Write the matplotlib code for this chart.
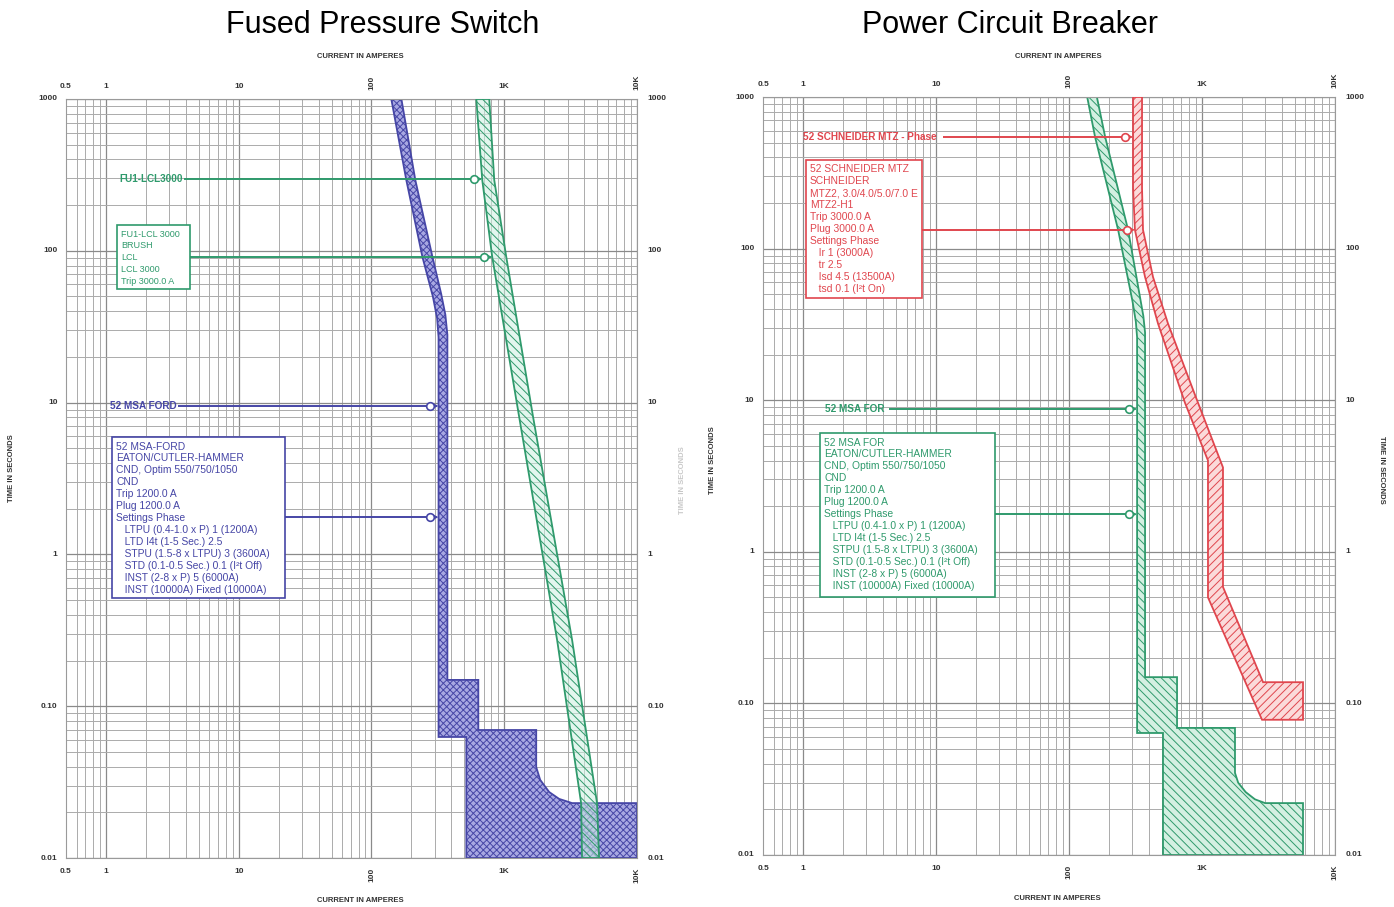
import numpy as np
import matplotlib
matplotlib.use('Agg')
import matplotlib.pyplot as plt
from matplotlib.patches import Rectangle, Polygon
from matplotlib.ticker import FixedLocator, LogLocator, NullFormatter
from matplotlib.transforms import blended_transform_factory

plt.rcParams['font.family'] = ['Liberation Sans', 'DejaVu Sans']
plt.rcParams['hatch.linewidth'] = 0.7

# ---------------- data ----------------
titles = ['Fused Pressure Switch', 'Power Circuit Breaker']
x_label = 'CURRENT IN AMPERES'
y_label = 'TIME IN SECONDS'
x_ticks = [0.5, 1, 10, 100, 1000, 10000]
x_tick_labels = ['0.5', '1', '10', '100', '1K', '10K']
x_tick_rot = [0, 0, 0, 90, 0, 90]
y_ticks = [1000, 100, 10, 1, 0.1, 0.01]
y_tick_labels = ['1000', '100', '10', '1', '0.10', '0.01']

# Left chart: breaker 52 MSA FORD (blue) outline (current A, time s)
blue_I = [141, 183, 242, 290, 312, 320, 320, 518, 518, 10000, 10000, 3245, 2594,
          2180, 1866, 1741, 1741, 638, 638, 373, 373, 360, 335, 288, 214, 168]
blue_t = [1000, 292, 91, 50, 36, 27, 0.0627, 0.0627, 0.01, 0.01, 0.023, 0.023, 0.0245,
          0.0272, 0.0327, 0.0397, 0.0697, 0.0697, 0.149, 0.149, 28, 38, 52, 91, 292, 1000]

# Left chart: fuse FU1-LCL3000 (green) band outline
fuse_I = [616, 683, 812, 1297, 2502, 3793, 3855, 5180, 5000, 3245, 1651, 1036, 841, 771]
fuse_t = [1000, 292, 91, 8.0, 0.273, 0.023, 0.01, 0.01, 0.023, 0.273, 8.0, 91, 292, 1000]

# Right chart: breaker 52 MSA FOR (green) outline
green_I = [137, 157, 234, 300, 318, 325, 325, 509, 509, 5747, 5747, 2978, 2500, 2130,
           1870, 1770, 1770, 649, 649, 373, 373, 362, 278, 187, 162]
green_t = [1000, 545, 133, 45, 33, 26, 0.0638, 0.0638, 0.01, 0.01, 0.022, 0.022, 0.0233,
           0.026, 0.030, 0.0348, 0.0689, 0.0689, 0.149, 0.149, 28, 36, 133, 545, 1000]

# Right chart: breaker 52 SCHNEIDER MTZ (red) outline
red_I = [303, 303, 313, 373, 467, 745, 1109, 1109, 2827, 5747, 5747, 2877, 1438, 1438,
         917, 555, 428, 360, 354, 354]
red_t = [1000, 250, 133, 65, 32, 9.6, 4.0, 0.50, 0.078, 0.078, 0.138, 0.138, 0.586, 3.6,
         10, 32, 65, 133, 250, 1000]

fuse_box = ['FU1-LCL 3000', 'BRUSH', 'LCL', 'LCL 3000', 'Trip 3000.0 A']
msa_box = ['52 MSA-FORD', 'EATON/CUTLER-HAMMER', 'CND, Optim 550/750/1050', 'CND',
           'Trip 1200.0 A', 'Plug 1200.0 A', 'Settings Phase',
           '   LTPU (0.4-1.0 x P) 1 (1200A)', '   LTD I4t (1-5 Sec.) 2.5',
           '   STPU (1.5-8 x LTPU) 3 (3600A)', '   STD (0.1-0.5 Sec.) 0.1 (I\u00b2t Off)',
           '   INST (2-8 x P) 5 (6000A)', '   INST (10000A) Fixed (10000A)']
msa_box_r = ['52 MSA FOR'] + msa_box[1:]
mtz_box = ['52 SCHNEIDER MTZ', 'SCHNEIDER', 'MTZ2, 3.0/4.0/5.0/7.0 E', 'MTZ2-H1',
           'Trip 3000.0 A', 'Plug 3000.0 A', 'Settings Phase', '   Ir 1 (3000A)',
           '   tr 2.5', '   Isd 4.5 (13500A)', '   tsd 0.1 (I\u00b2t On)']

# ---------------- style ----------------
BLUE = '#4646a6'
GREEN = '#2f9a6c'
RED = '#e0464e'
XMIN, XMAX, YMIN, YMAX = 0.5, 10000, 0.01, 1000

fig = plt.figure(figsize=(13.94, 9.07), dpi=100)
axL = fig.add_axes([66/1394, 1-858/907, 571/1394, 759/907])
axR = fig.add_axes([763/1394, 1-855/907, 572/1394, 758/907])


def frac_to_I(f):
    return 10 ** (np.log10(XMIN) + f * (np.log10(XMAX) - np.log10(XMIN)))


def setup(ax):
    ax.set_xscale('log')
    ax.set_yscale('log')
    ax.set_xlim(XMIN, XMAX)
    ax.set_ylim(YMIN, YMAX)
    for axis in (ax.xaxis, ax.yaxis):
        axis.set_major_locator(FixedLocator([1, 10, 100, 1000, 10000, 0.1, 0.01]))
        axis.set_minor_locator(LogLocator(base=10, subs=np.arange(2, 10)))
        axis.set_major_formatter(NullFormatter())
        axis.set_minor_formatter(NullFormatter())
    ax.tick_params(which='both', length=0)
    ax.grid(which='major', color='#8a8a8a', lw=0.9)
    ax.grid(which='minor', color='#ababab', lw=0.7)
    ax.set_axisbelow(True)
    for s in ax.spines.values():
        s.set_color('#9a9a9a')
        s.set_linewidth(0.8)
    tx = blended_transform_factory(ax.transData, ax.transAxes)
    ty = blended_transform_factory(ax.transAxes, ax.transData)
    for v, lab, rot in zip(x_ticks, x_tick_labels, x_tick_rot):
        ax.text(v, 1.012, lab, transform=tx, ha='center', va='bottom', rotation=rot,
                fontsize=6, color='#333333', fontweight='bold')
        ax.text(v, -0.013, lab, transform=tx, ha='center', va='top', rotation=rot,
                fontsize=6, color='#333333', fontweight='bold')
    for v, lab in zip(y_ticks, y_tick_labels):
        ax.text(-0.015, v, lab, transform=ty, ha='right', va='center',
                fontsize=6, color='#333333', fontweight='bold')
        ax.text(1.018, v, lab, transform=ty, ha='left', va='center',
                fontsize=6, color='#333333', fontweight='bold')


def band(ax, I, t, color, face, hatch, z):
    poly = Polygon(np.column_stack([I, t]), closed=True, facecolor=face, edgecolor=color,
                   hatch=hatch, lw=1.3, zorder=z)
    ax.add_patch(poly)


def leader(ax, x0, tip, t, color):
    c = tip / 1.15
    ax.plot([x0, c], [t, t], color=color, lw=1.4, zorder=4, solid_capstyle='butt')
    ax.annotate('', xy=(tip, t), xytext=(c * 1.03, t),
                arrowprops=dict(arrowstyle='-|>', color=color, lw=1.2,
                                mutation_scale=7, shrinkA=0, shrinkB=0), zorder=4)
    ax.plot([c], [t], marker='o', ms=5.5, mfc='white', mec=color, mew=1.2, zorder=5)


def tag(ax, x_start, x_end, t, text, tip, color):
    ax.text(x_start, t, text, ha='left', va='center', fontsize=7.2, fontweight='bold',
            color=color, zorder=6)
    leader(ax, x_end, tip, t, color)


def info_box(ax, x0, y0, x1, y1, lines, color, t_lead, tip, fs=7.4, ls=1.24):
    ax.add_patch(Rectangle((x0, y0), x1 - x0, y1 - y0, transform=ax.transAxes,
                           facecolor='white', edgecolor=color, lw=1.2, zorder=5))
    ax.text(x0 + 0.007, y1 - 0.006, '\n'.join(lines), transform=ax.transAxes,
            ha='left', va='top', fontsize=fs, color=color, linespacing=ls, zorder=6)
    leader(ax, frac_to_I(x1), tip, t_lead, color)


# ---------------- left chart ----------------
setup(axL)
band(axL, blue_I, blue_t, BLUE, '#a8a8e2', 'xxxxx', 2)
band(axL, fuse_I, fuse_t, GREEN, (0.80, 0.94, 0.88, 0.55), '\\\\\\\\', 3)
tag(axL, 1.27, 3.85, 297, 'FU1-LCL3000', 683, GREEN)
info_box(axL, 0.0893, 0.750, 0.217, 0.834, fuse_box, GREEN, 91, 812, fs=6.5, ls=1.42)
tag(axL, 1.07, 3.5, 9.5, '52 MSA FORD', 320, BLUE)
info_box(axL, 0.0806, 0.3426, 0.3835, 0.5547, msa_box, BLUE, 1.76, 320)

# ---------------- right chart ----------------
setup(axR)
band(axR, green_I, green_t, GREEN, '#d4f0e2', '\\\\\\\\', 2)
band(axR, red_I, red_t, RED, '#fbdada', '////', 3)
tag(axR, 1.0, 11.3, 545, '52 SCHNEIDER MTZ - Phase', 303, RED)
info_box(axR, 0.0752, 0.735, 0.278, 0.917, mtz_box, RED, 133, 313)
tag(axR, 1.46, 4.4, 8.75, '52 MSA FOR', 325, GREEN)
info_box(axR, 0.0997, 0.3404, 0.4056, 0.5567, msa_box_r, GREEN, 1.77, 325)

# ---------------- figure texts ----------------
fig.text(383/1394, 1-25/907, titles[0], fontsize=22, ha='center', va='center')
fig.text(1010/1394, 1-25/907, titles[1], fontsize=22, ha='center', va='center')
for (px, py) in [(360, 57), (360, 900), (1058, 56), (1057, 898)]:
    fig.text(px/1394, 1-py/907, x_label, fontsize=5.5, fontweight='bold',
             ha='center', va='center', color='#333333')
for (px, py, rot, col) in [(12, 468, 90, '#333333'), (683, 480, 90, '#c8c8c8'),
                           (712, 460, 90, '#333333'), (1381, 470, 270, '#333333')]:
    fig.text(px/1394, 1-py/907, y_label, fontsize=5.5, fontweight='bold', rotation=rot,
             ha='center', va='center', color=col)

fig.savefig('out.png', dpi=100)
